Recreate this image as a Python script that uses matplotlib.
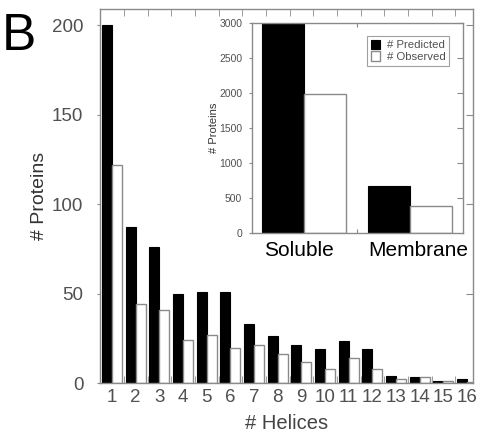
import numpy as np
import matplotlib
matplotlib.use('Agg')
import matplotlib.pyplot as plt

# Main histogram data: number of helices per protein
helices = list(range(1, 17))
predicted = [200, 87, 76, 50, 51, 51, 33, 26, 21, 19, 23.5, 19, 4, 3.5, 1, 2]
observed = [122, 44, 41, 24, 27, 19.5, 21, 16, 12, 8, 14, 8, 2, 3.5, 1, 0.5]

# Inset data: soluble vs membrane
classes = ['Soluble', 'Membrane']
inset_predicted = [3000, 670]
inset_observed = [1980, 380]

GRAY = '#8a8a8a'
TEXT = '#505050'

plt.rcParams['font.family'] = ['Liberation Sans', 'DejaVu Sans']

fig = plt.figure(figsize=(4.8, 4.34), dpi=100)
ax = fig.add_axes([100 / 480, 51 / 434, 373 / 480, 374 / 434])

x = np.array(helices)
w = 0.42
ax.bar(x - w / 2, predicted, w, color='black', edgecolor='black', linewidth=0.8)
ax.bar(x + w / 2, observed, w, color='white', edgecolor=GRAY, linewidth=1.0)

ax.set_xlim(0.49, 16.25)
ax.set_ylim(0, 209)
ax.set_xticks(helices)
ax.set_xticks(np.arange(1.5, 16, 1), minor=True)
ax.set_yticks([0, 50, 100, 150, 200])
ax.tick_params(axis='x', which='major', length=0, labelsize=13.5,
               labelcolor=TEXT, pad=4)
ax.tick_params(axis='x', which='minor', direction='in', length=5, color=GRAY,
               top=True, bottom=True)
ax.tick_params(axis='y', labelsize=13.5, labelcolor=TEXT, color=GRAY,
               direction='out', length=2, pad=10)
for s in ax.spines.values():
    s.set_color(GRAY)
    s.set_linewidth(1.0)

# inward ticks on the right spine
sec_right = ax.secondary_yaxis('right')
sec_right.set_yticks([50, 100, 150, 200])
sec_right.tick_params(direction='in', length=5, color=GRAY, labelright=False)
sec_right.spines['right'].set_visible(False)

ax.set_xlabel('# Helices', fontsize=14.5, color='#444444', labelpad=6)
ax.set_ylabel('# Proteins', fontsize=14, color='#333333', labelpad=3)

fig.text(2 / 480, 1 - 50 / 434, 'B', fontsize=37, color='black')

# Inset
ins = fig.add_axes([252 / 480, 201 / 434, 211 / 480, 210 / 434])
xi = np.arange(len(classes))
wi = 0.4
ins.bar(xi - wi / 2, inset_predicted, wi, color='black', edgecolor='black',
        linewidth=0.8, label='# Predicted')
ins.bar(xi + wi / 2, inset_observed, wi, color='white', edgecolor=GRAY,
        linewidth=1.0, label='# Observed')
ins.set_xlim(-0.49, 1.5)
ins.set_ylim(0, 3000)
ins.set_yticks(range(0, 3001, 500))
ins.set_xticks([0.5])
ins.set_xticklabels([])
ins.tick_params(axis='x', direction='in', length=3, color=GRAY, top=True)
ins.tick_params(axis='y', labelsize=7.5, labelcolor=TEXT, direction='out',
                length=2, color=GRAY, pad=5)
for s in ins.spines.values():
    s.set_color(GRAY)
    s.set_linewidth(1.0)
ins_right = ins.secondary_yaxis('right')
ins_right.set_yticks(range(500, 3001, 500))
ins_right.tick_params(direction='in', length=4, color=GRAY, labelright=False)
ins_right.spines['right'].set_visible(False)

for xc, name in zip([-0.05, 1.075], classes):
    ins.text(xc, -0.04, name, transform=ins.get_xaxis_transform(),
             ha='center', va='top', fontsize=15, color='black')

ins.set_ylabel('# Proteins', fontsize=8, color='#333333', labelpad=0)
leg = ins.legend(loc='upper right', fontsize=8.2, frameon=True, fancybox=False,
                 handlelength=0.8, handleheight=0.9, handletextpad=0.6,
                 borderpad=0.35, labelspacing=0.1, borderaxespad=0,
                 bbox_to_anchor=(0.935, 0.94))
leg.get_frame().set_edgecolor(GRAY)
leg.get_frame().set_linewidth(0.8)
for t in leg.get_texts():
    t.set_color(TEXT)

fig.savefig('out.png', dpi=100)
